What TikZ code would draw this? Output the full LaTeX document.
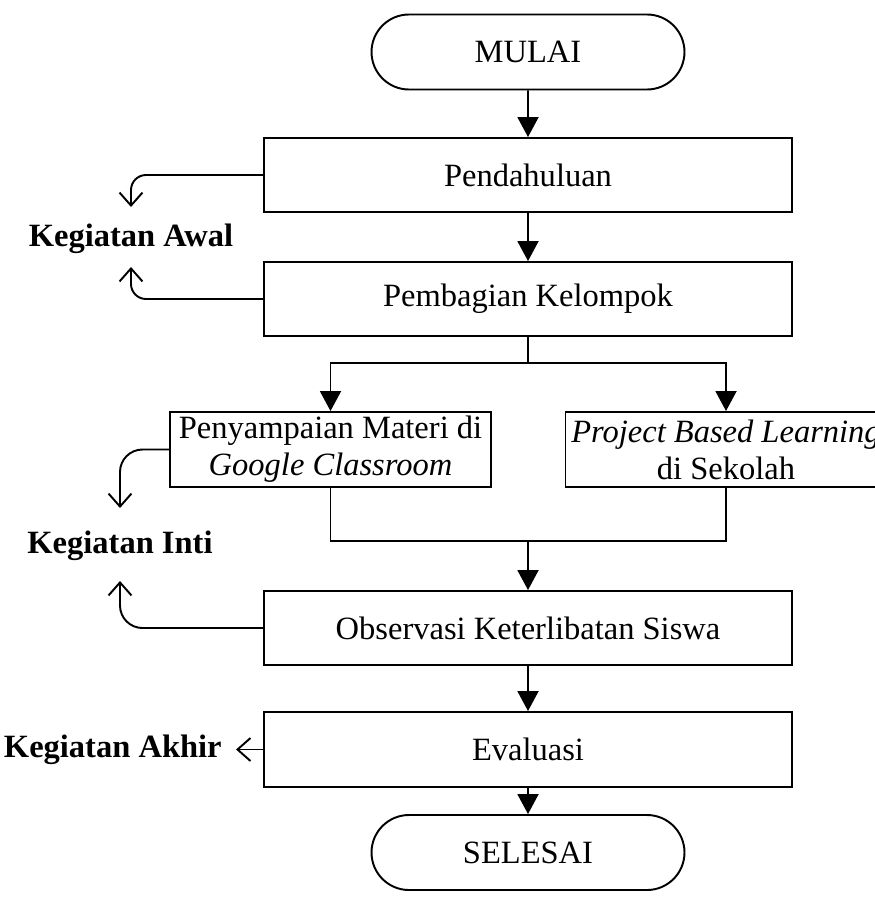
\documentclass[tikz,border=0pt]{standalone}
\usepackage{fontspec}
\setmainfont{Liberation Serif}
\usetikzlibrary{positioning,arrows.meta,shapes.misc}

\tikzset{
    base/.style={draw, line width=1.1pt, align=center, font=\fontsize{18.5}{21}\selectfont, inner sep=2pt},
    terminal/.style={base, rounded rectangle, minimum width=6.4cm, minimum height=1.5cm},
    proses/.style={base, rectangle, minimum width=10.56cm, minimum height=1.48cm},
    cabang/.style={base, rectangle, minimum width=6.42cm, minimum height=1.5cm},
    ket/.style={font=\fontsize{18.5}{21}\selectfont\bfseries},
    garis/.style={line width=1.1pt},
    alur/.style={garis, -{Triangle[width=0.42cm,length=0.4cm]}},
    samping/.style={garis, -{Straight Barb[width=0.46cm,length=0.26cm,line width=1.1pt]}}
}

\begin{document}
\begin{tikzpicture}
    \useasboundingbox (0,0) rectangle (17.5,-18.04);

    \node[terminal] (mulai) at (10.56,-1.04) {MULAI};
    \node[proses] (pendahuluan) at (10.56,-3.5) {Pendahuluan};
    \node[proses] (pembagian) at (10.56,-5.98) {Pembagian Kelompok};
    \node[cabang] (materi) at (6.61,-8.99) {Penyampaian Materi di\\ \textit{Google Classroom}};
    \node[cabang] (pbl) at (14.52,-8.99) {\textit{Project Based Learning}\\ di Sekolah};
    \node[proses] (observasi) at (10.56,-12.56) {Observasi Keterlibatan Siswa};
    \node[proses, minimum height=1.5cm] (evaluasi) at (10.56,-14.99) {Evaluasi};
    \node[terminal] (selesai) at (10.56,-17.05) {SELESAI};

    % keterangan di kiri
    \node[ket] (awal) at (2.62,-4.78) {Kegiatan Awal};
    \node[ket] (inti) at (2.4,-10.92) {Kegiatan Inti};
    \node[ket, left=0.54cm of evaluasi, inner sep=8pt] (akhir) {Kegiatan Akhir};

    \coordinate (split) at (10.56,-7.26);
    \coordinate (merge) at (10.56,-10.82);
    \coordinate (awalA) at (2.62,-4.14);
    \coordinate (awalB) at (2.62,-5.34);
    \coordinate (intiA) at (2.4,-10.16);
    \coordinate (intiB) at (2.4,-11.62);

    % alur utama
    \draw[alur] (mulai) -- (pendahuluan);
    \draw[alur] (pendahuluan) -- (pembagian);
    \draw[garis] (pembagian) -- (split);
    \draw[alur] (split) -| (materi);
    \draw[alur] (split) -| (pbl);
    \draw[garis] (materi) |- (merge) -| (pbl);
    \draw[alur] (merge) -- (observasi);
    \draw[alur] (observasi) -- (evaluasi);
    \draw[alur] (evaluasi) -- (selesai);

    % panah ke keterangan
    \draw[samping, rounded corners=0.3cm] (pendahuluan.west) -| (awalA);
    \draw[samping, rounded corners=0.3cm] (pembagian.west) -| (awalB);
    \draw[samping, rounded corners=0.45cm] (materi.west) -| (intiA);
    \draw[samping, rounded corners=0.45cm] (observasi.west) -| (intiB);
    \draw[samping] (evaluasi) -- (akhir);
\end{tikzpicture}
\end{document}
